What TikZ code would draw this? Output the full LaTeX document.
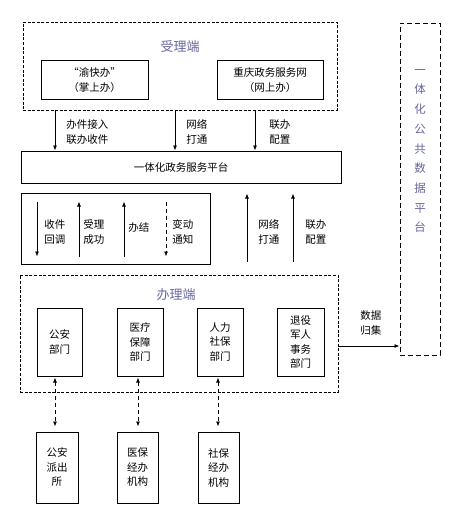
\documentclass[tikz,border=0pt]{standalone}
\usepackage{fontspec}
\setmainfont{Noto Sans CJK SC}
\usetikzlibrary{arrows.meta}
\definecolor{gwtitle}{rgb}{0.40,0.40,0.62}
\tikzset{
  gw chart/.style={
    x=1pt,
    y=-1pt,
    line width=0.8pt,
    >={Latex[length=5pt,width=4pt]}
  },
  gw region/.style={
    draw,
    dash pattern=on 3pt off 1.6pt,
    line width=0.8pt,
    minimum width=#1
  },
  gw box/.style={
    draw,
    line width=1pt,
    inner sep=1pt,
    align=center,
    font=\fontsize{10.5}{14.5}\selectfont
  },
  gw label/.style={
    anchor=west,
    align=left,
    inner sep=0pt,
    font=\fontsize{10.5}{14.5}\selectfont
  },
  gw title/.style={
    text=gwtitle,
    inner sep=0pt,
    font=\fontsize{13}{15}\selectfont
  }
}

\begin{document}
\begin{tikzpicture}[gw chart]
  \useasboundingbox (0,0) rectangle (464,515);

  \node[gw region=314pt,minimum height=88pt] (shouli) at (180,66) {};
  \node[gw title] at (180,47) {受理端};
  \node[gw box,minimum width=107pt,minimum height=39pt] (yukuai) at (94.5,80) {“渝快办”\\（掌上办）};
  \node[gw box,minimum width=106pt,minimum height=39pt] (cqnet) at (270,80) {重庆政务服务网\\（网上办）};

  \node[gw box,minimum width=320pt,minimum height=32pt] (pingtai) at (181,167) {一体化政务服务平台};

  \coordinate (a1) at (55,0);
  \coordinate (a2) at (175,0);
  \coordinate (a3) at (255,0);
  \draw[->] (shouli.south -| a1) -- (pingtai.north -| a1);
  \draw[->] (shouli.south -| a2) -- (pingtai.north -| a2);
  \draw[->] (shouli.south -| a3) -- (pingtai.north -| a3);
  \node[gw label] at (66,132) {办件接入\\联办收件};
  \node[gw label] at (186,132) {网络\\打通};
  \node[gw label] at (269,132) {联办\\配置};

  \node[gw box,minimum width=189pt,minimum height=71pt] (fankui) at (115.5,228.5) {};
  \coordinate (b1) at (37,0);
  \coordinate (b2) at (79,0);
  \coordinate (b3) at (124,0);
  \coordinate (b4) at (166,0);
  \draw[->,shorten <=9pt,shorten >=8pt] (fankui.north -| b1) -- (fankui.south -| b1);
  \draw[->,shorten <=8pt,shorten >=9pt] (fankui.south -| b2) -- (fankui.north -| b2);
  \draw[->,shorten <=8pt,shorten >=9pt] (fankui.south -| b3) -- (fankui.north -| b3);
  \draw[->,dash pattern=on 4pt off 3pt,shorten <=9pt,shorten >=8pt] (fankui.north -| b4) -- (fankui.south -| b4);
  \node[gw label] at (44,232) {收件\\回调};
  \node[gw label] at (83,232) {受理\\成功};
  \node[gw label] at (128,228) {办结};
  \node[gw label] at (172,232) {变动\\通知};

  \node[gw region=318pt,minimum height=117pt] (banli) at (179,333.5) {};
  \node[gw title] at (176,295) {办理端};

  \coordinate (c1) at (247,0);
  \coordinate (c2) at (293,0);
  \draw[->,shorten <=13pt,shorten >=10pt] (banli.north -| c1) -- (pingtai.south -| c1);
  \draw[->,shorten <=13pt,shorten >=10pt] (banli.north -| c2) -- (pingtai.south -| c2);
  \node[gw label] at (258,232) {网络\\打通};
  \node[gw label] at (305,232) {联办\\配置};

  \node[gw box,minimum width=45pt,minimum height=68pt] (gongan) at (59.5,342) {公安\\部门};
  \node[gw box,minimum width=46pt,minimum height=68pt] (yiliao) at (140,342) {医疗\\保障\\部门};
  \node[gw box,minimum width=46pt,minimum height=68pt] (renli) at (220,342) {人力\\社保\\部门};
  \node[gw box,minimum width=47pt,minimum height=68pt] (tuiyi) at (300.5,342) {退役\\军人\\事务\\部门};

  \node[gw box,minimum width=42pt,minimum height=71pt] (paichu) at (57,467.5) {公安\\派出\\所};
  \node[gw box,minimum width=41pt,minimum height=71pt] (yibao) at (137.5,467.5) {医保\\经办\\机构};
  \node[gw box,minimum width=41pt,minimum height=71pt] (shebao) at (218.5,467.5) {社保\\经办\\机构};

  \coordinate (d1) at (55,0);
  \coordinate (d2) at (138,0);
  \coordinate (d3) at (218,0);
  \draw[<->,dash pattern=on 4pt off 3pt,shorten <=1pt,shorten >=5pt] (gongan.south -| d1) -- (paichu.north -| d1);
  \draw[<->,dash pattern=on 4pt off 3pt,shorten <=1pt,shorten >=5pt] (yiliao.south -| d2) -- (yibao.north -| d2);
  \draw[<->,dash pattern=on 4pt off 3pt,shorten <=1pt,shorten >=5pt] (renli.south -| d3) -- (shebao.north -| d3);

  \node[draw,dash pattern=on 5pt off 3pt,line width=1pt,minimum width=40pt,minimum height=332pt] (gongxiang) at (420,189) {};
  \node[gw title,align=center,font=\fontsize{11.5}{19.7}\selectfont] at (420,151) {一\\体\\化\\公\\共\\数\\据\\平\\台};

  \coordinate (sj) at (338,346);
  \draw[->] (sj) -- (sj -| gongxiang.west);
  \node[gw label] at (360,323) {数据\\归集};

\end{tikzpicture}
\end{document}
